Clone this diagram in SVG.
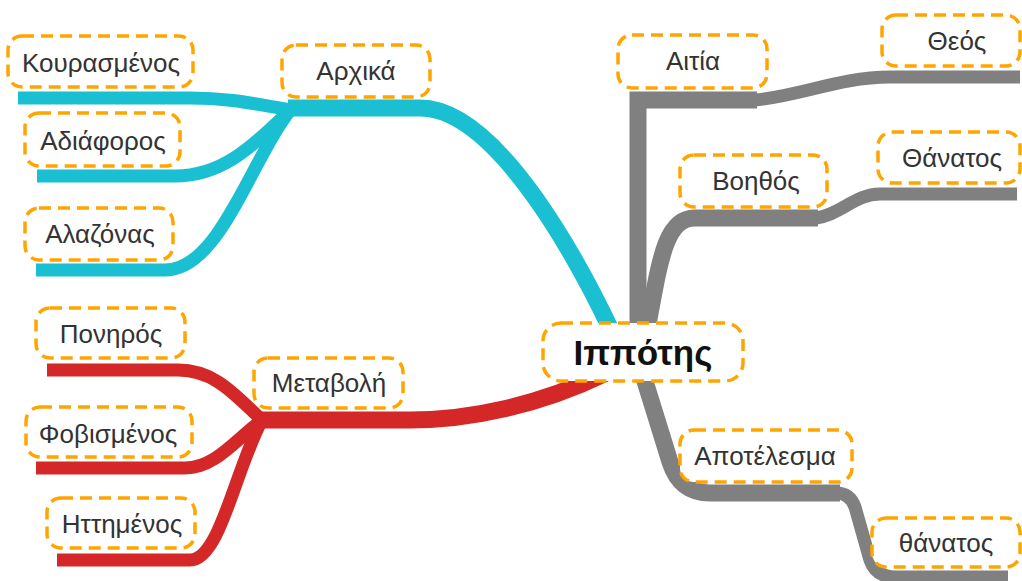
<svg xmlns="http://www.w3.org/2000/svg" width="1022" height="581" viewBox="0 0 1022 581">
  <style>
    .box { fill: #ffffff; stroke: #FFA500; stroke-width: 3.5; stroke-dasharray: 12 7; }
    .lbl { font-family: "Liberation Sans", Arial, sans-serif; font-size: 26px; fill: #333333; text-anchor: middle; }
    .root { font-family: "Liberation Sans", Arial, sans-serif; font-size: 35px; font-weight: bold; fill: #111111; text-anchor: middle; }
    .c { fill: none; stroke: #1ABFD1; }
    .r { fill: none; stroke: #D42828; }
    .g { fill: none; stroke: #808080; }
    .main { stroke-width: 17; }
    .sub { stroke-width: 13; }
  </style>

  <g id="connectors">
    <!-- cyan branch -->
    <path class="c main" d="M 612 332 C 585 275, 500 108, 420 108 L 288 108"/>
    <path class="c sub" d="M 18 98 L 190 98 C 230 98, 255 104, 292 110"/>
    <path class="c sub" d="M 37 176 L 175 176 C 220 176, 250 150, 292 108"/>
    <path class="c sub" d="M 36 270 L 165 270 C 220 270, 250 160, 292 108"/>
    <!-- red branch -->
    <path class="r main" d="M 256 420 L 410 420 C 470 420, 540 405, 606 373"/>
    <path class="r sub" d="M 47 370 L 178 370 C 215 370, 235 395, 262 420"/>
    <path class="r sub" d="M 36 468 L 185 468 C 215 468, 235 440, 262 420"/>
    <path class="r sub" d="M 57 560 L 190 560 C 220 560, 235 470, 262 420"/>
    <!-- gray branches -->
    <path class="g main" d="M 638 330 V 100 H 757" stroke-linejoin="miter"/>
    <path class="g sub" d="M 755 100 C 800 96, 840 77, 890 77 L 1020 77"/>
    <path class="g main" d="M 647 330 C 660 260, 665 218, 695 218 L 818 218"/>
    <path class="g sub" d="M 816 218 C 840 215, 855 194, 880 194 L 1017 194"/>
    <path class="g main" d="M 644 378 L 670 462 Q 680 493 710 493 L 840 493"/>
    <path class="g sub" d="M 836 493 Q 850 493 855 507 L 870 560 Q 876 577 895 577 L 1008 577"/>
  </g>

  <g id="node-ippotis">
    <rect class="box" x="543" y="323" width="200" height="58" rx="18"/>
    <text class="root" x="643" y="365">Ιππότης</text>
  </g>
  <g id="node-arxika">
    <rect class="box" x="282" y="45" width="148" height="52" rx="14"/>
    <text class="lbl" x="356" y="80">Αρχικά</text>
  </g>
  <g id="node-kourasmenos">
    <rect class="box" x="8" y="36" width="185" height="51" rx="14"/>
    <text class="lbl" x="101" y="72">Κουρασμένος</text>
  </g>
  <g id="node-adiaforos">
    <rect class="box" x="25" y="113" width="155" height="53" rx="14"/>
    <text class="lbl" x="103" y="150">Αδιάφορος</text>
  </g>
  <g id="node-alazonas">
    <rect class="box" x="25" y="208" width="148" height="52" rx="14"/>
    <text class="lbl" x="100" y="243">Αλαζόνας</text>
  </g>
  <g id="node-metavoli">
    <rect class="box" x="254" y="358" width="149" height="50" rx="14"/>
    <text class="lbl" x="329" y="392">Μεταβολή</text>
  </g>
  <g id="node-ponhros">
    <rect class="box" x="36" y="308" width="149" height="50" rx="14"/>
    <text class="lbl" x="111" y="343">Πονηρός</text>
  </g>
  <g id="node-fovismenos">
    <rect class="box" x="26" y="407" width="166" height="50" rx="14"/>
    <text class="lbl" x="108" y="443">Φοβισμένος</text>
  </g>
  <g id="node-httimenos">
    <rect class="box" x="47" y="498" width="148" height="50" rx="14"/>
    <text class="lbl" x="122" y="533">Ηττημένος</text>
  </g>
  <g id="node-aitia">
    <rect class="box" x="618" y="35" width="149" height="53" rx="14"/>
    <text class="lbl" x="693" y="70">Αιτία</text>
  </g>
  <g id="node-theos">
    <rect class="box" x="882" y="15" width="138" height="51" rx="14"/>
    <text class="lbl" x="957" y="50">Θεός</text>
  </g>
  <g id="node-voithos">
    <rect class="box" x="680" y="155" width="147" height="52" rx="14"/>
    <text class="lbl" x="756" y="190">Βοηθός</text>
  </g>
  <g id="node-thanatos-1">
    <rect class="box" x="878" y="132" width="142" height="51" rx="14"/>
    <text class="lbl" x="952" y="167">Θάνατος</text>
  </g>
  <g id="node-apotelesma">
    <rect class="box" x="680" y="430" width="172" height="52" rx="14"/>
    <text class="lbl" x="765" y="465">Αποτέλεσμα</text>
  </g>
  <g id="node-thanatos-2">
    <rect class="box" x="872" y="518" width="148" height="49" rx="14"/>
    <text class="lbl" x="946" y="552">θάνατος</text>
  </g>
</svg>
